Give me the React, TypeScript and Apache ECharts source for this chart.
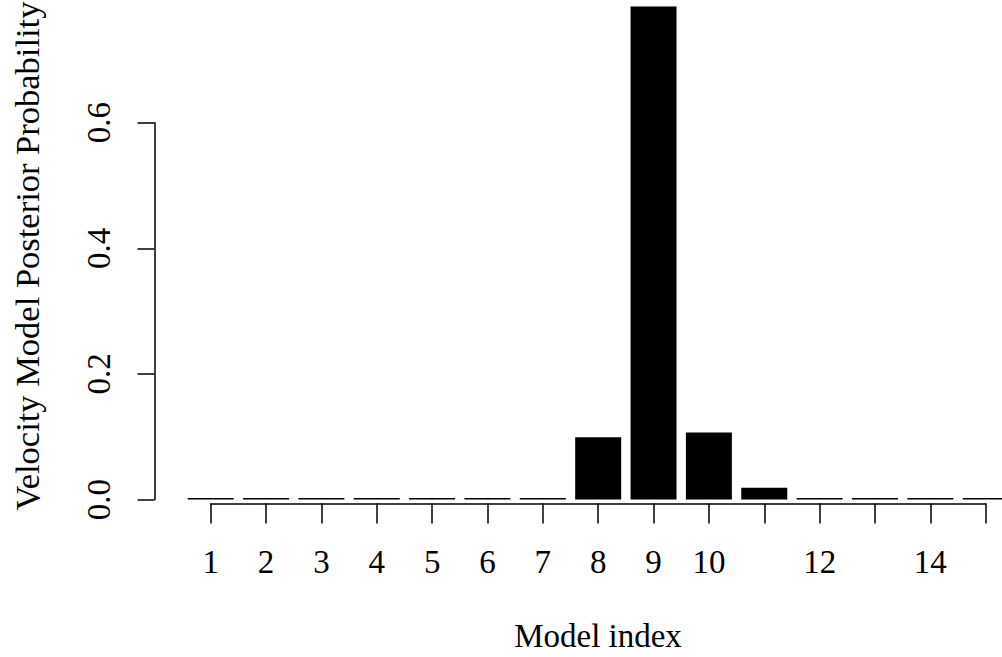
import React, { useEffect, useRef } from "react";
import * as echarts from "echarts";

const modelIndex = [1, 2, 3, 4, 5, 6, 7, 8, 9, 10, 11, 12, 13, 14, 15];
const posterior = [0, 0, 0, 0, 0, 0, 0, 0.099, 0.785, 0.1065, 0.0188, 0, 0, 0, 0];
const xTickLabels = ["1", "2", "3", "4", "5", "6", "7", "8", "9", "10", "", "12", "", "14", ""];
const yTicks = ["0.0", "0.2", "0.4", "0.6"];
const xTitle = "Model index";
const yTitle = "Velocity Model Posterior Probability";

const FONT = "'Liberation Serif', 'DejaVu Serif', serif";
const FS = 33;

export default function App() {
  const ref = useRef<HTMLDivElement>(null);
  useEffect(() => {
    if (!ref.current) return;
    const chart = echarts.init(ref.current, null, { renderer: "svg" });
    const axisLine = { show: true, lineStyle: { color: "#000", width: 1.5 } };
    chart.setOption({
      animation: false,
      backgroundColor: "#fff",
      grid: [
        { left: 183, right: 0, top: 122.7, bottom: 157.5 },
        { left: 210.7, right: 16.3, top: 493.5, bottom: 153.5 },
      ],
      xAxis: [
        // plot region runs past the right edge of the page; visible part ends at x = 15.295
        { gridIndex: 0, type: "value", min: 0.5, max: 15.295, show: false },
        {
          gridIndex: 1,
          type: "value",
          min: 1,
          max: 15,
          interval: 1,
          position: "bottom",
          axisLine,
          axisTick: { show: true, length: 20, lineStyle: { color: "#000", width: 1.5 } },
          splitLine: { show: false },
          axisLabel: {
            show: true,
            margin: 42,
            color: "#000",
            fontFamily: FONT,
            fontSize: FS,
            formatter: (v: number) => xTickLabels[Math.round(v) - 1] ?? "",
          },
        },
      ],
      yAxis: [
        {
          gridIndex: 0,
          type: "value",
          min: 0,
          max: 0.6,
          interval: 0.2,
          offset: 28.5,
          axisLine,
          axisTick: { show: true, length: 17, lineStyle: { color: "#000", width: 1.5 } },
          splitLine: { show: false },
          axisLabel: {
            rotate: 90,
            margin: 39,
            color: "#000",
            fontFamily: FONT,
            fontSize: FS,
            formatter: (v: number) => yTicks[Math.round(v / 0.2)] ?? "",
          },
        },
        { gridIndex: 1, type: "value", show: false },
      ],
      series: [
        {
          type: "bar",
          xAxisIndex: 0,
          yAxisIndex: 0,
          clip: false,
          barWidth: 46,
          barMinHeight: 1.5,
          itemStyle: { color: "#000" },
          data: modelIndex.map((m, i) => [m, posterior[i]]),
        },
      ],
      graphic: [
        {
          type: "text",
          x: 598,
          y: 636,
          style: {
            text: xTitle,
            font: `${FS}px ${FONT}`,
            fill: "#000",
            textAlign: "center",
            textVerticalAlign: "middle",
          },
        },
        {
          type: "text",
          x: 26.5,
          y: 256,
          rotation: Math.PI / 2,
          style: {
            text: yTitle,
            font: `34.5px ${FONT}`,
            fill: "#000",
            textAlign: "center",
            textVerticalAlign: "middle",
          },
        },
      ],
    });
    return () => chart.dispose();
  }, []);
  return <div ref={ref} style={{ width: 1002, height: 657, position: "absolute", left: 0, top: 0 }} />;
}
